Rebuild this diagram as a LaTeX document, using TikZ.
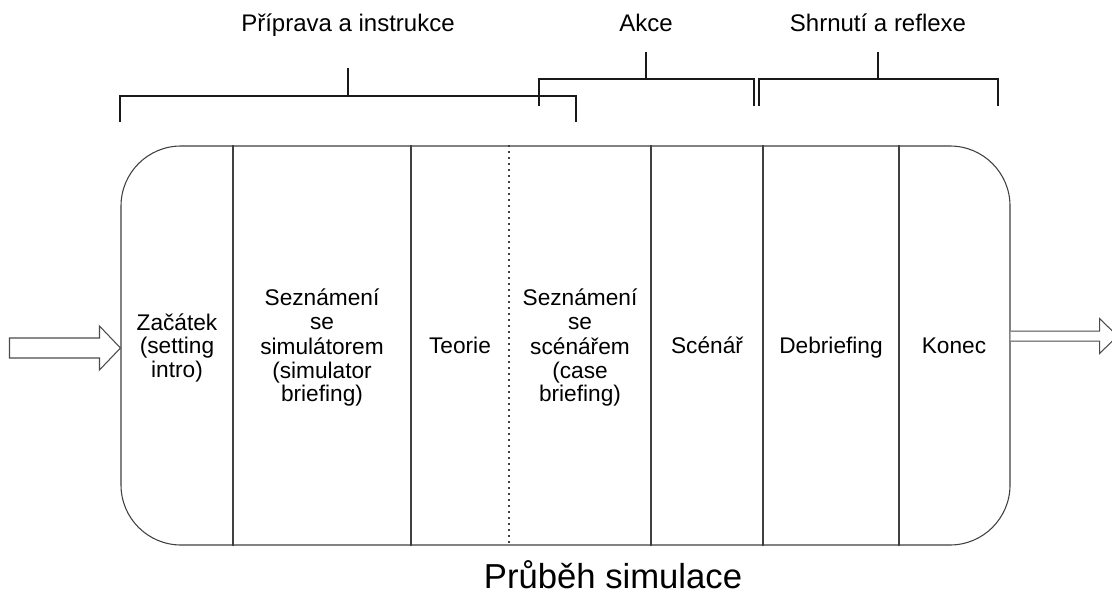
\documentclass[tikz,border=0pt]{standalone}
\usepackage{fontspec}
\setmainfont{Liberation Sans}
\begin{document}
\begin{tikzpicture}[x=0.75pt,y=-0.75pt,
  edge/.style={draw=black!75,line width=0.8pt},
  brk/.style={draw=black!90,line width=1.5pt},
  hollow/.style={draw=black!70,line width=0.8pt,fill=white,line join=miter},
  cell/.style={align=center,inner sep=0pt,font=\fontsize{17}{17.8}\selectfont},
  phase/.style={anchor=base,inner sep=0pt,font=\fontsize{18}{21}\selectfont},
  title/.style={anchor=base,inner sep=0pt,font=\fontsize{26}{30}\selectfont}]
\clip (0,0) rectangle (1112,595);
\fill[white] (0,0) rectangle (1112,595);
% main box
\node[edge,rounded corners=45pt,minimum width=666.75pt,minimum height=299.25pt,inner sep=0pt] (box) at (565.5,345.5) {};
% dividers
\draw[edge] (233,0 |- box.north) -- (233,0 |- box.south);
\draw[edge] (411,0 |- box.north) -- (411,0 |- box.south);
\draw[edge,line width=1pt,dash pattern=on 1.3pt off 3.2pt] (509,0 |- box.north) -- (509,0 |- box.south);
\draw[edge] (651,0 |- box.north) -- (651,0 |- box.south);
\draw[edge] (763,0 |- box.north) -- (763,0 |- box.south);
\draw[edge] (899,0 |- box.north) -- (899,0 |- box.south);
% cell texts
\node[cell] (c1) at (177,349) {\strut Začátek\\\strut (setting\\\strut intro)};
\node[cell] (c2) at (322,349) {\strut Seznámení\\\strut se\\\strut simulátorem\\\strut (simulator\\\strut briefing)};
\node[cell] (c3) at (460,349) {\strut Teorie};
\node[cell] (c4) at (580,349) {\strut Seznámení\\\strut se\\\strut scénářem\\\strut (case\\\strut briefing)};
\node[cell] (c5) at (707,349) {\strut Scénář};
\node[cell] (c6) at (831,349) {\strut Debriefing};
\node[cell] (c7) at (954,349) {\strut Konec};
% arrows
\coordinate (tipL) at (box.west |- 0,348);
\draw[hollow] (tipL) -- ++(-21,-22) -- ++(0,12) -- ++(-90,0) -- ++(0,20) -- ++(90,0) -- ++(0,12) -- cycle;
\coordinate (startR) at (box.east |- 0,346.5);
\draw[hollow] ([yshift=4.1pt]startR) -- ++(89,0) -- ++(0,12.5) -- ++(18,-17.5) -- ++(-18,-17.5) -- ++(0,12.5) -- ++(-89,0);
% phase labels
\node[phase] (p1) at (348,32) {Příprava a instrukce};
\node[phase] (p2) at (646,32) {Akce};
\node[phase] (p3) at (878,32) {Shrnutí a reflexe};
% brackets
\draw[brk] (120,122) |- (576,96) -- (576,122);
\draw[brk] (348,96) -- (348,68);
\draw[brk] (539,106) |- (754,79) -- (754,106);
\draw[brk] (646,79) -- (646,52);
\draw[brk] (759,106) |- (998,79) -- (998,106);
\draw[brk] (878,79) -- (878,52);
% title
\node[title] (t) at (613,588) {Průběh simulace};
\end{tikzpicture}
\end{document}
